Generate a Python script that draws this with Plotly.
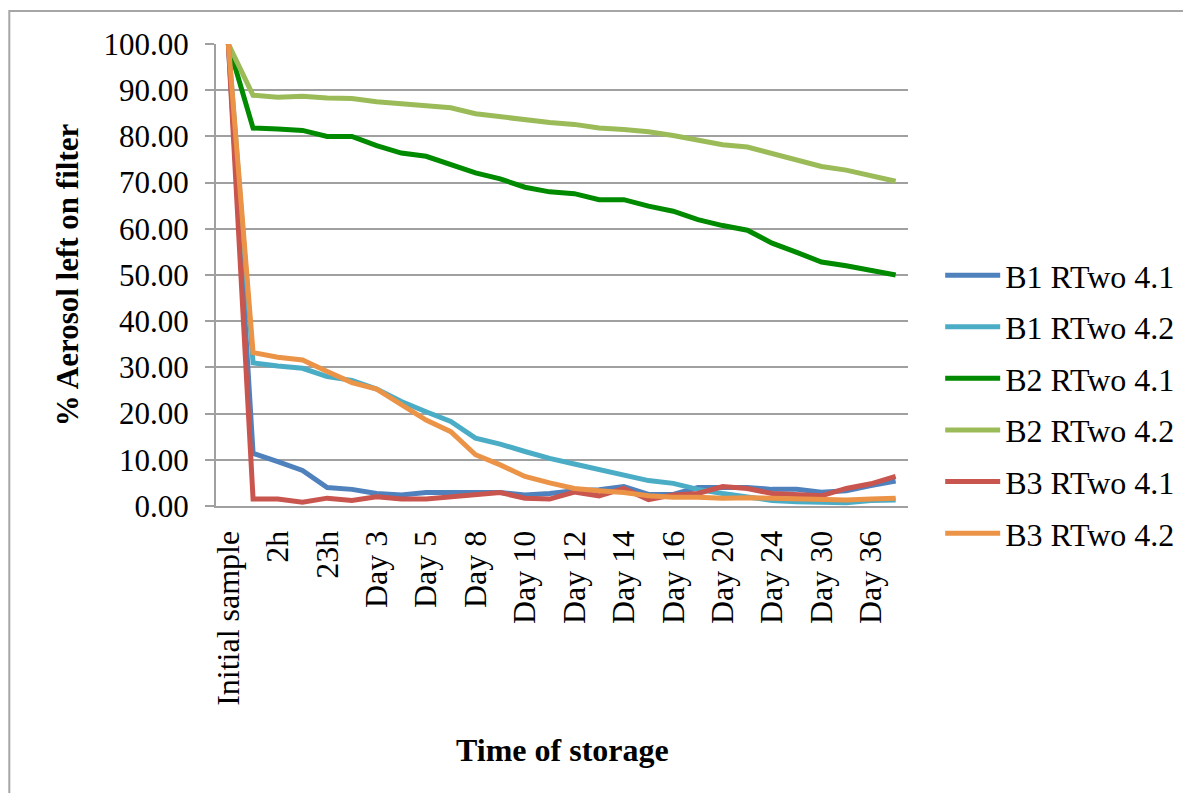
import plotly.graph_objects as go

categories = ["Initial sample", "1h", "2h", "6h", "23h", "Day 2", "Day 3", "Day 4",
              "Day 5", "Day 7", "Day 8", "Day 9", "Day 10", "Day 11", "Day 12",
              "Day 13", "Day 14", "Day 15", "Day 16", "Day 18", "Day 20", "Day 22",
              "Day 24", "Day 27", "Day 30", "Day 33", "Day 36", "Day 39"]

b1_41 = [100, 11.4, 9.6, 7.7, 4.0, 3.6, 2.7, 2.4, 2.9, 2.9, 2.9, 2.9, 2.4, 2.7,
         3.3, 3.5, 4.2, 2.5, 2.5, 4.0, 4.0, 4.0, 3.6, 3.6, 3.0, 3.3, 4.4, 5.4]
b1_42 = [100, 31.0, 30.3, 29.8, 28.0, 27.2, 25.3, 22.6, 20.4, 18.3, 14.7, 13.4, 11.8, 10.3,
         9.1, 7.9, 6.7, 5.5, 4.9, 3.6, 2.7, 2.0, 1.2, 0.9, 0.7, 0.7, 1.2, 1.3]
b2_41 = [100, 81.8, 81.6, 81.3, 80.0, 80.0, 78.0, 76.4, 75.7, 73.9, 72.1, 70.8, 69.0, 68.0,
         67.6, 66.3, 66.3, 64.9, 63.8, 62.0, 60.7, 59.7, 56.9, 54.9, 52.8, 52.0, 51.1, 50.0]
b2_42 = [100, 88.9, 88.5, 88.7, 88.3, 88.2, 87.5, 87.1, 86.5, 86.2, 84.9, 84.2, 83.6, 83.0,
         82.6, 81.8, 81.5, 81.0, 80.2, 79.3, 78.2, 77.7, 76.3, 74.8, 73.5, 72.7, 71.6, 70.3]
b3_41 = [100, 1.5, 1.5, 0.8, 1.7, 1.2, 2.0, 1.5, 1.5, 2.0, 2.5, 2.9, 1.7, 1.5,
         3.0, 2.2, 3.8, 1.4, 2.4, 2.7, 4.2, 3.8, 2.7, 2.4, 2.2, 3.8, 4.8, 6.4]
b3_42 = [100, 33.2, 32.2, 31.6, 29.1, 26.7, 25.3, 21.9, 18.6, 16.1, 11.1, 8.9, 6.4, 5.0,
         3.8, 3.3, 2.9, 2.2, 1.9, 1.9, 1.7, 1.8, 1.7, 1.6, 1.4, 1.3, 1.5, 1.7]

series_names = ["B1 RTwo 4.1", "B1 RTwo 4.2", "B2 RTwo 4.1", "B2 RTwo 4.2", "B3 RTwo 4.1", "B3 RTwo 4.2"]
series_values = [b1_41, b1_42, b2_41, b2_42, b3_41, b3_42]
colors = ["#4F81BD", "#4BACC6", "#008A00", "#9BBB59", "#C9554F", "#EB9347"]

FONT = "Liberation Serif, Times New Roman, serif"
GRID = "#A0A0A0"

fig = go.Figure()
for i, (name, vals, col) in enumerate(zip(series_names, series_values, colors)):
    fig.add_trace(go.Scatter(
        x=categories, y=vals, name=name, mode="lines",
        line=dict(color=col, width=5),
        legendgroup="g%d" % i,
    ))

tick_labels = categories[0::2]

# page body has an 8px default margin, so the figure is 8px smaller
fig.update_layout(
    width=1183, height=785,
    margin=dict(l=208, r=282, t=36, b=287),
    paper_bgcolor="white", plot_bgcolor="white",
    font=dict(family=FONT, size=32, color="black"),
    showlegend=True,
    legend=dict(
        x=1.045, xanchor="left", y=0.22, yanchor="middle",
        font=dict(family=FONT, size=32, color="black"),
        tracegroupgap=7, itemwidth=55,
        bgcolor="rgba(0,0,0,0)",
    ),
    xaxis=dict(
        type="category", categoryorder="array", categoryarray=categories,
        range=[-0.5, len(categories) - 0.5],
        tickmode="array", tickvals=tick_labels, ticktext=tick_labels,
        tickangle=-90, ticks="", showgrid=False, zeroline=False,
        showline=True, linecolor=GRID, linewidth=2,
        ticklabelstandoff=10,
        tickfont=dict(family=FONT, size=32, color="black"),
    ),
    xaxis2=dict(
        overlaying="x", anchor="y", side="bottom", type="linear",
        range=[-0.5, len(categories) - 0.5],
        tickmode="linear", tick0=-0.5, dtick=1,
        ticks="outside", ticklen=10, tickwidth=2, tickcolor=GRID,
        showticklabels=False, showgrid=False, zeroline=False, showline=False,
    ),
    yaxis=dict(
        range=[0, 100], dtick=10, tickformat=".2f",
        showgrid=True, gridcolor=GRID, gridwidth=2,
        showline=True, linecolor=GRID, linewidth=2,
        ticks="outside", ticklen=9, tickwidth=2, tickcolor=GRID,
        ticklabelstandoff=10, zeroline=False,
        tickfont=dict(family=FONT, size=31, color="black"),
    ),
    annotations=[
        dict(text="<b>% Aerosol left on filter</b>", xref="paper", yref="paper",
             x=-0.215, y=0.5, xanchor="center", yanchor="middle", textangle=-90,
             showarrow=False, font=dict(family=FONT, size=31, color="black")),
        dict(text="<b>Time of storage</b>", xref="paper", yref="paper",
             x=0.5, y=-0.528, xanchor="center", yanchor="middle",
             showarrow=False, font=dict(family=FONT, size=32, color="black")),
    ],
    shapes=[
        dict(type="rect", xref="paper", yref="paper",
             x0=-0.2987, x1=1.6, y0=1.0714, y1=-0.8,
             line=dict(color="#A6A6A6", width=2), fillcolor="rgba(0,0,0,0)",
             layer="below"),
    ],
)

fig.write_html("out.html")
